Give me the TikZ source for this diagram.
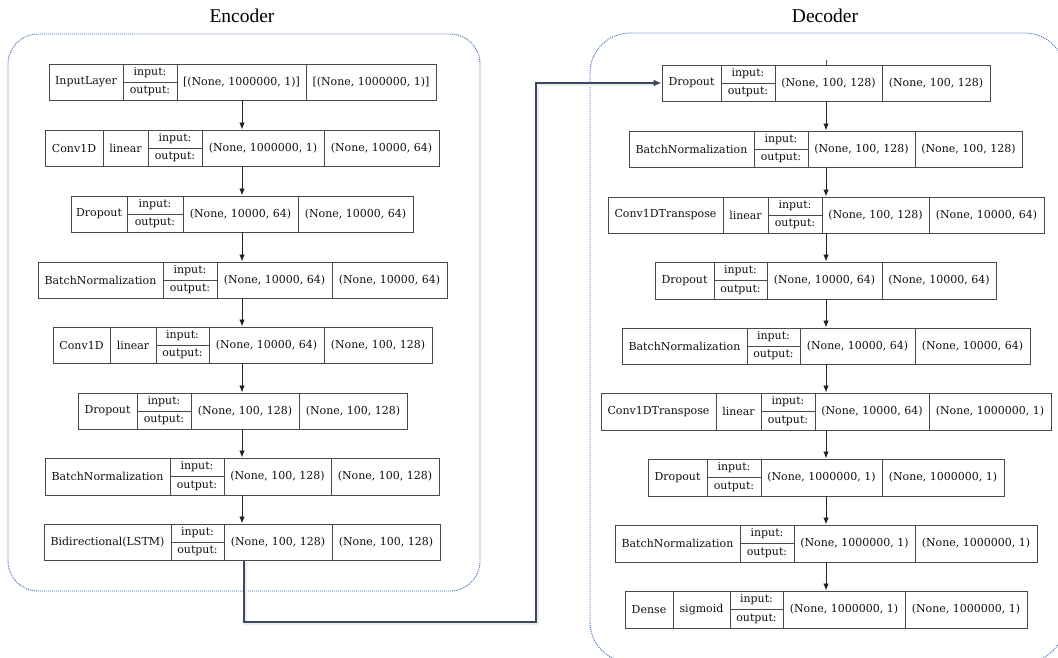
\documentclass[tikz,border=0pt]{standalone}
\usepackage{fontspec}
\setmainfont{DejaVu Serif}
\newfontfamily\titlefont{Liberation Serif}
\usetikzlibrary{arrows.meta,calc}
\definecolor{boxgray}{HTML}{4A4A4A}
\definecolor{txtc}{HTML}{111111}
\definecolor{arrc}{HTML}{222222}
\definecolor{conc}{HTML}{3B4862}
\definecolor{dotblue}{HTML}{3F6DB8}
\tikzset{
  cellst/.style={draw=boxgray, line width=0.95pt, inner sep=0pt, fill=white, text=txtc,
    font=\fontsize{11}{13}\selectfont},
  iotxt/.style={inner sep=0pt, text=txtc, font=\fontsize{11}{13}\selectfont},
  boxline/.style={draw=boxgray, line width=0.95pt},
  arr/.style={draw=arrc, line width=0.9pt, -{Latex[length=7pt,width=5.5pt]}},
  conn/.style={draw=conc, line width=1.6pt, -{Latex[length=8pt,width=7pt]}},
  connshadow/.style={draw=black!7, line width=3pt},
  container/.style={draw=dotblue, line width=0.9pt, dash pattern=on 1pt off 1pt},
  titlest/.style={inner sep=0pt, font=\titlefont\fontsize{19.5}{22}\selectfont}
}
\newcommand\lcell[6]{\node[cellst, minimum width={(#3)-(#2)}, minimum height={(#5)-(#4)}] (#1) at ({((#2)+(#3))/2},{((#4)+(#5))/2}) {#6};}
\newcommand\iocell[5]{\lcell{#1}{#2}{#3}{#4}{#5}{}
  \draw[boxline] (#1.west) -- (#1.east);
  \node[iotxt] (#1i) at ($(#1.center)!0.5!(#1.north)$) {input:};
  \node[iotxt] (#1o) at ($(#1.center)!0.5!(#1.south)$) {output:};}
\begin{document}
\begin{tikzpicture}[x=1pt,y=-1pt]
\useasboundingbox (0,0) rectangle (1058,657);
% containers
\draw[container, rounded corners=30pt] (8,34) rectangle (480,591);
\draw[container, rounded corners=40pt] (590,33) rectangle (1065,662);
% titles
\node[titlest] (enct) at (242,16) {Encoder};
\node[titlest] (dect) at (825,16) {Decoder};
% ---------------- Encoder ----------------
\lcell{e1a}{49}{123}{64}{100}{InputLayer}
\iocell{e1b}{123}{177}{64}{100}
\lcell{e1c}{177}{306}{64}{100}{[(None, 1000000, 1)]}
\lcell{e1d}{306}{436}{64}{100}{[(None, 1000000, 1)]}

\lcell{e2a}{45}{103}{130}{166}{Conv1D}
\lcell{e2b}{103}{148}{130}{166}{linear}
\iocell{e2c}{148}{202}{130}{166}
\lcell{e2d}{202}{324}{130}{166}{(None, 1000000, 1)}
\lcell{e2e}{324}{439}{130}{166}{(None, 10000, 64)}

\lcell{e3a}{71}{127}{196}{232}{Dropout}
\iocell{e3b}{127}{183}{196}{232}
\lcell{e3c}{183}{298}{196}{232}{(None, 10000, 64)}
\lcell{e3d}{298}{413}{196}{232}{(None, 10000, 64)}

\lcell{e4a}{38}{163}{262}{298}{BatchNormalization}
\iocell{e4b}{163}{217}{262}{298}
\lcell{e4c}{217}{332}{262}{298}{(None, 10000, 64)}
\lcell{e4d}{332}{447}{262}{298}{(None, 10000, 64)}

\lcell{e5a}{53}{110}{327}{363}{Conv1D}
\lcell{e5b}{110}{156}{327}{363}{linear}
\iocell{e5c}{156}{209}{327}{363}
\lcell{e5d}{209}{324}{327}{363}{(None, 10000, 64)}
\lcell{e5e}{324}{432}{327}{363}{(None, 100, 128)}

\lcell{e6a}{78}{137}{393}{429}{Dropout}
\iocell{e6b}{137}{191}{393}{429}
\lcell{e6c}{191}{299}{393}{429}{(None, 100, 128)}
\lcell{e6d}{299}{407}{393}{429}{(None, 100, 128)}

\lcell{e7a}{45}{170}{458}{495}{BatchNormalization}
\iocell{e7b}{170}{224}{458}{495}
\lcell{e7c}{224}{331}{458}{495}{(None, 100, 128)}
\lcell{e7d}{331}{439}{458}{495}{(None, 100, 128)}

\lcell{e8a}{44}{171}{524}{560}{Bidirectional(LSTM)}
\iocell{e8b}{171}{224}{524}{560}
\lcell{e8c}{224}{332}{524}{560}{(None, 100, 128)}
\lcell{e8d}{332}{440}{524}{560}{(None, 100, 128)}

\coordinate (eax) at (242,0);
\draw[arr] (e1c.south -| eax) -- (e2d.north -| eax);
\draw[arr] (e2d.south -| eax) -- (e3c.north -| eax);
\draw[arr] (e3c.south -| eax) -- (e4c.north -| eax);
\draw[arr] (e4c.south -| eax) -- (e5d.north -| eax);
\draw[arr] (e5d.south -| eax) -- (e6c.north -| eax);
\draw[arr] (e6c.south -| eax) -- (e7c.north -| eax);
\draw[arr] (e7c.south -| eax) -- (e8c.north -| eax);

% ---------------- Decoder ----------------
\lcell{d1a}{662}{721}{65}{101}{Dropout}
\iocell{d1b}{721}{775}{65}{101}
\lcell{d1c}{775}{882}{65}{101}{(None, 100, 128)}
\lcell{d1d}{882}{990}{65}{101}{(None, 100, 128)}

\lcell{d2a}{629}{754}{131}{167}{BatchNormalization}
\iocell{d2b}{754}{808}{131}{167}
\lcell{d2c}{808}{915}{131}{167}{(None, 100, 128)}
\lcell{d2d}{915}{1022}{131}{167}{(None, 100, 128)}

\lcell{d3a}{608}{723}{197}{233}{Conv1DTranspose}
\lcell{d3b}{723}{768}{197}{233}{linear}
\iocell{d3c}{768}{822}{197}{233}
\lcell{d3d}{822}{929}{197}{233}{(None, 100, 128)}
\lcell{d3e}{929}{1044}{197}{233}{(None, 10000, 64)}

\lcell{d4a}{655}{714}{262}{299}{Dropout}
\iocell{d4b}{714}{767}{262}{299}
\lcell{d4c}{767}{882}{262}{299}{(None, 10000, 64)}
\lcell{d4d}{882}{996}{262}{299}{(None, 10000, 64)}

\lcell{d5a}{622}{747}{328}{364}{BatchNormalization}
\iocell{d5b}{747}{800}{328}{364}
\lcell{d5c}{800}{915}{328}{364}{(None, 10000, 64)}
\lcell{d5d}{915}{1030}{328}{364}{(None, 10000, 64)}

\lcell{d6a}{601}{716}{393}{430}{Conv1DTranspose}
\lcell{d6b}{716}{761}{393}{430}{linear}
\iocell{d6c}{761}{815}{393}{430}
\lcell{d6d}{815}{929}{393}{430}{(None, 10000, 64)}
\lcell{d6e}{929}{1051}{393}{430}{(None, 1000000, 1)}

\lcell{d7a}{648}{707}{459}{496}{Dropout}
\iocell{d7b}{707}{761}{459}{496}
\lcell{d7c}{761}{882}{459}{496}{(None, 1000000, 1)}
\lcell{d7d}{882}{1004}{459}{496}{(None, 1000000, 1)}

\lcell{d8a}{615}{740}{525}{562}{BatchNormalization}
\iocell{d8b}{740}{794}{525}{562}
\lcell{d8c}{794}{915}{525}{562}{(None, 1000000, 1)}
\lcell{d8d}{915}{1037}{525}{562}{(None, 1000000, 1)}

\lcell{d9a}{625}{673}{591}{628}{Dense}
\lcell{d9b}{673}{730}{591}{628}{sigmoid}
\iocell{d9c}{730}{783}{591}{628}
\lcell{d9d}{783}{905}{591}{628}{(None, 1000000, 1)}
\lcell{d9e}{905}{1027}{591}{628}{(None, 1000000, 1)}

\coordinate (dax) at (826,0);
\draw[boxline] (d1c.north -| dax) -- ++(0,-5);
\draw[arr] (d1c.south -| dax) -- (d2c.north -| dax);
\draw[arr] (d2c.south -| dax) -- (d3d.north -| dax);
\draw[arr] (d3d.south -| dax) -- (d4c.north -| dax);
\draw[arr] (d4c.south -| dax) -- (d5c.north -| dax);
\draw[arr] (d5c.south -| dax) -- (d6d.north -| dax);
\draw[arr] (d6d.south -| dax) -- (d7c.north -| dax);
\draw[arr] (d7c.south -| dax) -- (d8c.north -| dax);
\draw[arr] (d8c.south -| dax) -- (d9d.north -| dax);

% ---------------- Encoder -> Decoder connector ----------------
\coordinate (cx) at (244,0);
\coordinate (cb) at (536,622);
\draw[connshadow] ([shift={(1.5,1.5)}]e8c.south -| cx) |- ([shift={(1.5,1.5)}]cb) |- ([shift={(-8,1.5)}]d1a.west);
\draw[conn] (e8c.south -| cx) |- (cb) |- (d1a.west);
\end{tikzpicture}
\end{document}
